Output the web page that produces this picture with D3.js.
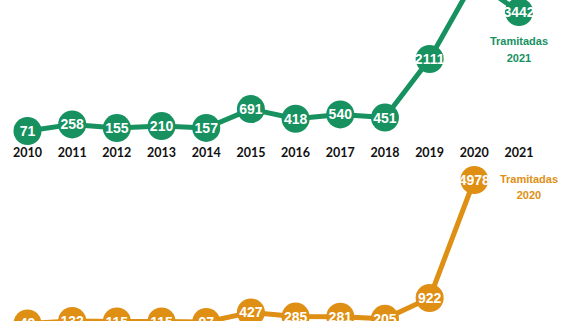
<!DOCTYPE html>
<html>
<head>
<meta charset="utf-8">
<style>
body { margin: 0; background: #fff; }
svg { display: block; }
.year { font-family: Lato, "Open Sans", sans-serif; font-weight: bold; font-size: 12.5px; fill: #111; }
.val { font-family: "Liberation Sans Narrow", "Liberation Sans", Arial, sans-serif; font-weight: bold; font-size: 14px; fill: #fff; }
.tag { font-family: "Liberation Sans", Arial, sans-serif; font-weight: bold; font-size: 11px; }
</style>
</head>
<body>
<svg id="chart" width="570" height="321"></svg>
<script src="https://cdn.jsdelivr.net/npm/d3@7"></script>
<script>
// data (2020 value of the green series is above the crop, estimated)
var years = [2010, 2011, 2012, 2013, 2014, 2015, 2016, 2017, 2018, 2019, 2020, 2021];
var tramitadas2021 = [71, 258, 155, 210, 157, 691, 418, 540, 451, 2111, 4350, 3442];
var tramitadas2020 = [49, 132, 115, 115, 97, 427, 285, 281, 205, 922, 4978];

var green = "#17915f";
var orange = "#de8f14";
var r = 14;

var svg = d3.select("#chart");

var x = d3.scalePoint().domain(years).range([27.5, 519]);

// two separate panels, each with its own vertical scale
var yTop = d3.scaleLinear().domain([71, 3442]).range([131, 12]);
var yBot = d3.scaleLinear().domain([922, 4978]).range([298, 180]);

function drawSeries(vals, y, color) {
  var pts = vals.map(function(v, i) { return {year: years[i], value: v}; });
  var g = svg.append("g");

  g.append("path")
    .datum(pts)
    .attr("fill", "none")
    .attr("stroke", color)
    .attr("stroke-width", 5)
    .attr("stroke-linejoin", "round")
    .attr("d", d3.line()
      .x(function(d) { return x(d.year); })
      .y(function(d) { return y(d.value); }));

  var node = g.selectAll("g.node")
    .data(pts)
    .enter().append("g")
      .attr("class", "node")
      .attr("transform", function(d) { return "translate(" + x(d.year) + "," + y(d.value) + ")"; });

  node.append("circle")
    .attr("r", r)
    .attr("fill", color);

  node.append("text")
    .attr("class", "val")
    .attr("text-anchor", "middle")
    .attr("dy", "0.36em")
    .text(function(d) { return d.value; });
}

drawSeries(tramitadas2021, yTop, green);
drawSeries(tramitadas2020, yBot, orange);

// year labels under the top panel
svg.append("g")
  .selectAll("text")
  .data(years)
  .enter().append("text")
    .attr("class", "year")
    .attr("x", function(d) { return x(d); })
    .attr("y", 157)
    .attr("text-anchor", "middle")
    .text(function(d) { return d; });

// series tags
var tag1 = svg.append("text")
  .attr("class", "tag")
  .attr("fill", green)
  .attr("text-anchor", "middle");
tag1.append("tspan").attr("x", 519).attr("y", 45).text("Tramitadas");
tag1.append("tspan").attr("x", 519).attr("y", 62).text("2021");

var tag2 = svg.append("text")
  .attr("class", "tag")
  .attr("fill", orange)
  .attr("text-anchor", "middle");
tag2.append("tspan").attr("x", 529).attr("y", 183).text("Tramitadas");
tag2.append("tspan").attr("x", 529).attr("y", 199).text("2020");
</script>
</body>
</html>
